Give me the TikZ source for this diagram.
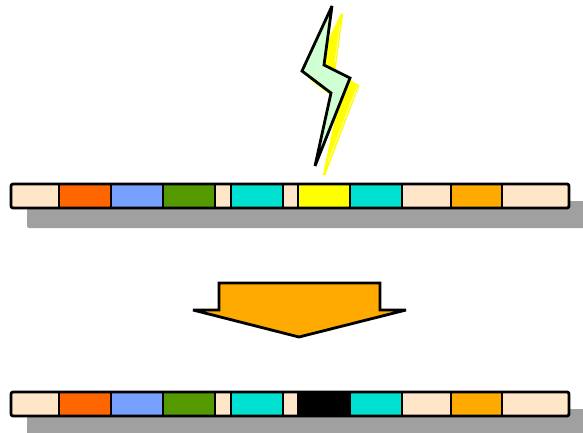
\documentclass[tikz,border=0pt]{standalone}
\usepackage{amsmath}
\definecolor{cream}{HTML}{FFE6C8}
\definecolor{redorange}{HTML}{FF6600}
\definecolor{skyblue}{HTML}{78A0FF}
\definecolor{leaf}{HTML}{559900}
\definecolor{cyanbar}{HTML}{00E0D0}
\definecolor{amber}{HTML}{FFAA00}
\definecolor{boltgreen}{HTML}{CFFFD2}
\definecolor{boltyellow}{HTML}{FFFF00}
\definecolor{shadowgray}{HTML}{A0A0A0}
\tikzset{outline/.style={draw=black, line width=2.8pt, line join=miter, miter limit=3},
         segment/.style={outline, line join=round}}
\newcommand{\genebar}[2]{%
                    \fill[shadowgray, rounded corners=2pt] (27,#1+17) rectangle (620,#1+44);
                    \fill[cream, rounded corners=2pt] (11,#1) rectangle (569,#1+24);
                    \foreach \xa/\xb/\col in {59/111/redorange, 111/163/skyblue, 163/215/leaf, 231/283/cyanbar, 298/350/#2, 350/402/cyanbar, 451/502/amber}
                        \draw[segment, fill=\col] (\xa,#1) rectangle (\xb,#1+24);
                    \draw[segment, rounded corners=2pt] (11,#1) rectangle (569,#1+24);}

\begin{document}
\begin{tikzpicture}[x=1pt, y=-1pt]
                    \clip (0,0) rectangle (583,432);
                    % bolt
                    \draw[draw=boltyellow, fill=boltyellow, line width=2.4pt, line join=miter, miter limit=3] (342,14) -- (334,72) -- (358,86) -- (324,175) -- (340,101) -- (311,79) -- cycle;
                    \draw[white, line width=.6pt] (340,24) -- (335,62);
                    \draw[white, line width=.6pt] (357,87) -- (328,162);
                    \draw[outline, fill=boltgreen] (332,6) -- (324,65) -- (350,78) -- (315,166) -- (331,93) -- (302,71) -- cycle;
                    % strands
                    \genebar{184}{boltyellow}
                    \genebar{392}{black}
                    % arrow
                    \draw[outline, fill=amber] (219,283) -- (380,283) -- (380,310) -- (406,310) -- (299,337) -- (193,310) -- (219,310) -- cycle;
                \end{tikzpicture}
\end{document}
